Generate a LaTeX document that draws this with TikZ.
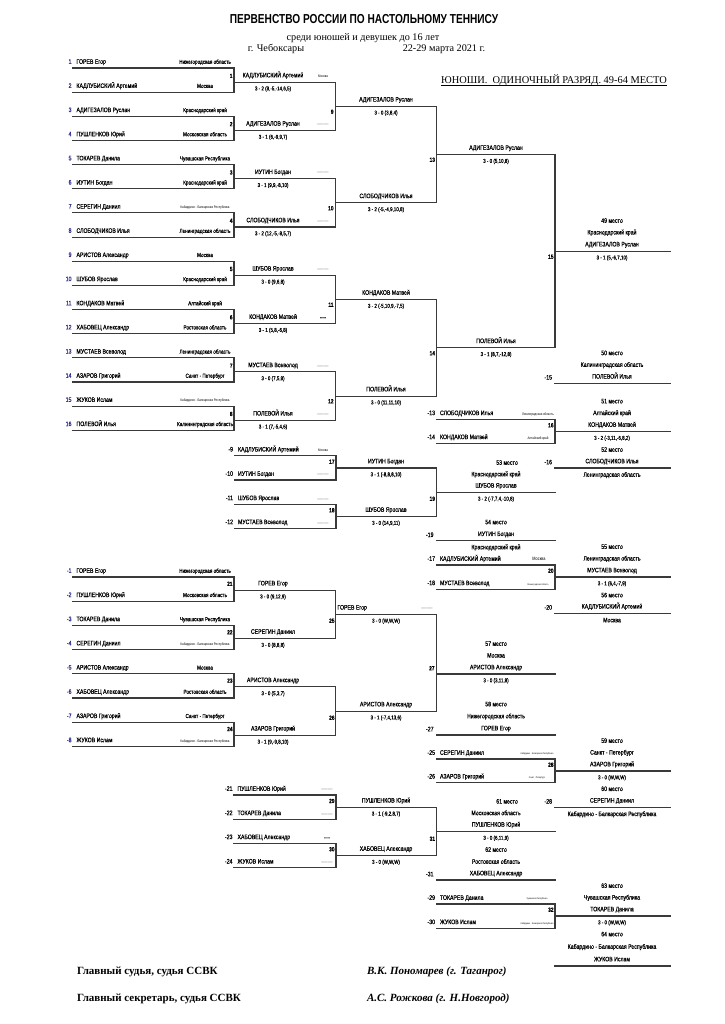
\documentclass[tikz,border=0pt]{standalone}
\usepackage{fontspec}
\setmainfont{Liberation Serif}
\newfontfamily\nar[FakeStretch=0.8,FakeBold=0.45]{Liberation Sans}
\newfontfamily\narl[FakeStretch=0.8]{Liberation Sans}
\newfontfamily\ttlf[FakeStretch=0.78]{Liberation Sans}
\definecolor{nb}{HTML}{2B2B8C}
\definecolor{ln}{HTML}{3A3A3A}
\newcommand\B[1]{\textcolor{nb}{#1}}
\newcommand\tn{\narl\fontsize{3.6}{4}\selectfont}
\newcommand\tnn{\narl\fontsize{2.4}{3}\selectfont}
\newcommand\dsh{{\narl\fontsize{3.8}{3}\selectfont\color{black}-{}-{}-{}-{}-{}-{}-{}-{}-{}-{}-}}
\newcommand\thk{{\nar\fontsize{4.4}{3}\selectfont\bfseries -{}-{}-{}-{}-}}
\tikzset{
 br/.style={line width=1.1pt, draw=ln, line cap=rect},
 tx/.style={inner sep=0pt, outer sep=0pt, anchor=mid, text=black},
 nm/.style={tx, font=\nar\fontsize{6.5}{7}\selectfont},
 sc/.style={tx, font=\nar\fontsize{5.6}{6}\selectfont},
 rg/.style={tx, font=\nar\fontsize{5.8}{6}\selectfont},
 num/.style={tx, font=\nar\bfseries\fontsize{6}{7}\selectfont},
 serif/.style={inner sep=0pt, outer sep=0pt, anchor=mid, font=\fontsize{10.2}{12}\selectfont},
 foot/.style={inner sep=0pt, outer sep=0pt, anchor=mid west, font=\bfseries\fontsize{11}{12}\selectfont},
}
% player line: id, num, name, region, xl, xr, y, region-x
\newcommand\PL[8]{%
  \coordinate (#1l) at (#5,#7); \coordinate (#1r) at (#6,#7);
  \draw[br] (#1l) -- (#1r);
  \node[nm, anchor=mid east] (#1n) at (#5-1.5,#7-6.5) {#2};
  \node[nm, anchor=mid west] (#1t) at (#5+3.5,#7-6.5) {#3};
  \node[rg] (#1g) at (#8,#7-6.5) {#4};}
% winner line: id, x1, x2, y, name, score, cx
\newcommand\WO[7]{%
  \coordinate (#1l) at (#2,#4); \coordinate (#1r) at (#3,#4);
  \draw[br] (#1l) -- (#1r);
  \node[nm] (#1t) at (#7,#4-7) {#5};
  \node[sc] (#1s) at (#7,#4+6) {#6};}
% loser line: id, x1, x2, y, label, cx, name
\newcommand\LL[7]{%
  \coordinate (#1l) at (#2,#4); \coordinate (#1r) at (#3,#4);
  \draw[br] (#1l) -- (#1r);
  \node[nm, anchor=mid east] (#1n) at (#2-3,#4-6) {#5};
  \node[nm] (#1t) at (#6,#4-7) {#7};}
% match number: id, x, y, text
\newcommand\MN[4]{\node[num, anchor=mid east] (#1) at (#2,#3) {#4};}
\begin{document}
\begin{tikzpicture}[x=1pt,y=-1pt]
\useasboundingbox (0,0) rectangle (724,1024);
\fill[white] (0,0) rectangle (724,1024);

% ---------- header ----------
\node[inner sep=0pt, anchor=mid, font=\ttlf\bfseries\fontsize{13}{14}\selectfont] (title) at (364,21) {ПЕРВЕНСТВО РОССИИ ПО НАСТОЛЬНОМУ ТЕННИСУ};
\node[serif] (sub) at (363,38.5) {среди юношей и девушек до 16 лет};
\node[serif] (city) at (276,49.5) {г. Чебоксары};
\node[serif] (date) at (444,49.5) {22-29 марта 2021 г.};
\node[serif, font=\fontsize{10.4}{12}\selectfont] (cat) at (554,81) {ЮНОШИ.\ \ ОДИНОЧНЫЙ РАЗРЯД. 49-64 МЕСТО};
\draw[line width=0.6pt] ([yshift=-1.8pt]cat.base west) -- ([yshift=-1.8pt]cat.base east);

% ---------- upper bracket, round 1 ----------
\PL{p1}{\B{1}}{ГОРЕВ Егор}{Нижегородская область}{73}{234}{68}{205}
\PL{p2}{\B{2}}{КАДЛУБИСКИЙ Артемий}{Москва}{73}{234}{92.15}{205}
\PL{p3}{\B{3}}{АДИГЕЗАЛОВ Руслан}{Краснодарский край}{73}{234}{116.3}{205}
\PL{p4}{\B{4}}{ПУШЛЕНКОВ Юрий}{Московская область}{73}{234}{140.45}{205}
\PL{p5}{\B{5}}{ТОКАРЕВ Данила}{Чувашская Республика}{73}{234}{164.6}{205}
\PL{p6}{\B{6}}{ИУТИН Богдан}{Краснодарский край}{73}{234}{188.75}{205}
\PL{p7}{\B{7}}{СЕРЕГИН Даниил}{\tn Кабардино - Балкарская Республика}{73}{234}{212.9}{205}
\PL{p8}{\B{8}}{СЛОБОДЧИКОВ Илья}{Ленинградская область}{73}{234}{237.05}{205}
\PL{p9}{\B{9}}{АРИСТОВ Александр}{Москва}{73}{234}{261.2}{205}
\PL{p10}{\B{10}}{ШУБОВ Ярослав}{Краснодарский край}{73}{234}{285.35}{205}
\PL{p11}{\B{11}}{КОНДАКОВ Матвей}{Алтайский край}{73}{234}{309.5}{205}
\PL{p12}{\B{12}}{ХАБОВЕЦ Александр}{Ростовская область}{73}{234}{333.65}{205}
\PL{p13}{\B{13}}{МУСТАЕВ Всеволод}{Ленинградская область}{73}{234}{357.8}{205}
\PL{p14}{\B{14}}{АЗАРОВ Григорий}{Санкт - Петербург}{73}{234}{381.95}{205}
\PL{p15}{\B{15}}{ЖУКОВ Ислам}{\tn Кабардино - Балкарская Республика}{73}{234}{406.1}{205}
\PL{p16}{\B{16}}{ПОЛЕВОЙ Илья}{Калининградская область}{73}{234}{430.25}{205}
\foreach \a/\b in {1/2,3/4,5/6,7/8,9/10,11/12,13/14,15/16} \draw[br] (p\a r) -- (p\b r);

\WO{m1}{234}{335.5}{82.1}{КАДЛУБИСКИЙ Артемий}{3 - 2 (8,-5,-14,6,5)}{273}
\WO{m2}{234}{335.5}{130.4}{АДИГЕЗАЛОВ Руслан}{3 - 1 (6,-9,9,7)}{273}
\WO{m3}{234}{335.5}{178.7}{ИУТИН Богдан}{3 - 1 (9,9,-8,10)}{273}
\WO{m4}{234}{335.5}{227.0}{СЛОБОДЧИКОВ Илья}{3 - 2 (12,-5,-8,5,7)}{273}
\WO{m5}{234}{335.5}{275.3}{ШУБОВ Ярослав}{3 - 0 (9,6,8)}{273}
\WO{m6}{234}{335.5}{323.6}{КОНДАКОВ Матвей}{3 - 1 (5,8,-6,8)}{273}
\WO{m7}{234}{335.5}{371.9}{МУСТАЕВ Всеволод}{3 - 0 (7,5,8)}{273}
\WO{m8}{234}{335.5}{420.2}{ПОЛЕВОЙ Илья}{3 - 1 (7,-5,4,6)}{273}
\node[rg] (g1) at (323,75.1) {\tn Москва};
\node[rg] (g2) at (323,123.4) {\dsh};
\node[rg] (g3) at (323,171.7) {\dsh};
\node[rg] (g4) at (323,220) {\dsh};
\node[rg] (g5) at (323,268.3) {\dsh};
\node[rg] (g6) at (323,316.6) {\thk};
\node[rg] (g7) at (323,364.9) {\dsh};
\node[rg] (g8) at (323,413.2) {\dsh};
\foreach \a/\b in {1/2,3/4,5/6,7/8} \draw[br] (m\a r) -- (m\b r);
\MN{n1}{232.5}{75.6}{1} \MN{n2}{232.5}{123.9}{2} \MN{n3}{232.5}{172.2}{3} \MN{n4}{232.5}{220.5}{4}
\MN{n5}{232.5}{268.8}{5} \MN{n6}{232.5}{317.1}{6} \MN{n7}{232.5}{365.4}{7} \MN{n8}{232.5}{413.7}{8}

\WO{m9}{335.5}{436.5}{106.25}{АДИГЕЗАЛОВ Руслан}{3 - 0 (3,8,4)}{386}
\WO{m10}{335.5}{436.5}{202.85}{СЛОБОДЧИКОВ Илья}{3 - 2 (-5,-4,9,10,8)}{386}
\WO{m11}{335.5}{436.5}{299.45}{КОНДАКОВ Матвей}{3 - 2 (-5,10,9,-7,5)}{386}
\WO{m12}{335.5}{436.5}{396.05}{ПОЛЕВОЙ Илья}{3 - 0 (11,11,10)}{386}
\draw[br] (m9r) -- (m10r); \draw[br] (m11r) -- (m12r);
\MN{n9}{333.5}{111.5}{9} \MN{n10}{333.5}{208}{10} \MN{n11}{333.5}{304.5}{11} \MN{n12}{333.5}{401}{12}

\WO{m13}{436.5}{555}{154.55}{АДИГЕЗАЛОВ Руслан}{3 - 0 (5,10,8)}{496}
\WO{m14}{436.5}{555}{347.75}{ПОЛЕВОЙ Илья}{3 - 1 (8,7,-12,8)}{496}
\draw[br] (m13r) -- (m14r);
\MN{n13}{435}{159.5}{13} \MN{n14}{435}{353}{14}

\WO{m15}{555}{670}{251.15}{АДИГЕЗАЛОВ Руслан}{3 - 1 (5,-6,7,10)}{612}
\node[nm] (a49) at (612,220.5) {49 место};
\node[nm] (a49r) at (612,232.2) {Краснодарский край};
\MN{n15}{553.5}{256.5}{15}

\LL{l15}{555}{670}{383.3}{-15}{612}{ПОЛЕВОЙ Илья}
\node[nm] (a50) at (612,352.9) {50 место};
\node[nm] (a50r) at (612,364.6) {Калининградская область};

% ---------- match 16 ----------
\PL{q13}{-13}{СЛОБОДЧИКОВ Илья}{\tn Ленинградская область}{436.5}{555}{419.3}{538}
\PL{q14}{-14}{КОНДАКОВ Матвей}{\tn Алтайский край}{436.5}{555}{443.3}{538}
\draw[br] (q13r) -- (q14r);
\WO{m16}{555}{670}{431.5}{КОНДАКОВ Матвей}{3 - 2 (-3,11,-6,8,2)}{612}
\node[nm] (a51) at (612,401.1) {51 место};
\node[nm] (a51r) at (612,412.8) {Алтайский край};
\MN{n16}{553.5}{425}{16}
\node[nm] (a52) at (612,449.5) {52 место};
\LL{l16}{555}{670}{468}{-16}{612}{СЛОБОДЧИКОВ Илья}
\node[nm] (a52r) at (612,474.5) {Ленинградская область};

% ---------- matches 17-19 ----------
\PL{q9}{-9}{КАДЛУБИСКИЙ Артемий}{\tn Москва}{234.5}{336}{455.7}{323}
\PL{q10}{-10}{ИУТИН Богдан}{\dsh}{234.5}{336}{480}{323}
\PL{q11}{-11}{ШУБОВ Ярослав}{\dsh}{234.5}{336}{504.3}{323}
\PL{q12}{-12}{МУСТАЕВ Всеволод}{\dsh}{234.5}{336}{528.3}{323}
\draw[br] (q9r) -- (q10r); \draw[br] (q11r) -- (q12r);
\WO{m17}{336}{436.5}{468}{ИУТИН Богдан}{3 - 1 (-8,8,8,10)}{386}
\WO{m18}{336}{436.5}{516.5}{ШУБОВ Ярослав}{3 - 0 (14,9,11)}{386}
\MN{n17}{334.5}{461.5}{17} \MN{n18}{334.5}{510}{18}
\draw[br] (m17r) -- (m18r);
\WO{m19}{436.5}{555}{492.3}{ШУБОВ Ярослав}{3 - 2 (-7,7,4,-10,8)}{496}
\node[nm] (a53) at (507,462.5) {53 место};
\node[nm] (a53r) at (496,474) {Краснодарский край};
\MN{n19}{435}{498.5}{19}
\node[nm] (a54) at (496,522) {54 место};
\LL{l19}{436.5}{555}{540.7}{-19}{496}{ИУТИН Богдан}
\node[nm] (a54r) at (496,547) {Краснодарский край};

% ---------- match 20 ----------
\PL{q17}{-17}{КАДЛУБИСКИЙ Артемий}{\narl\fontsize{4.8}{5}\selectfont Москва}{436.5}{555}{565}{539}
\PL{q18}{-18}{МУСТАЕВ Всеволод}{\tnn Ленинградская область}{436.5}{555}{589.3}{538}
\draw[br] (q17r) -- (q18r);
\WO{m20}{555}{670}{577}{МУСТАЕВ Всеволод}{3 - 1 (6,4,-7,9)}{612}
\node[nm] (a55) at (612,546.6) {55 место};
\node[nm] (a55r) at (612,558.3) {Ленинградская область};
\MN{n20}{553.5}{570.5}{20}
\node[nm] (a56) at (612,595) {56 место};
\LL{l20}{555}{670}{613.3}{-20}{612}{КАДЛУБИСКИЙ Артемий}
\node[nm] (a56r) at (612,620) {Москва};

% ---------- lower bracket ----------
\PL{r1}{\B{-1}}{ГОРЕВ Егор}{Нижегородская область}{73}{234}{577}{205}
\PL{r2}{\B{-2}}{ПУШЛЕНКОВ Юрий}{Московская область}{73}{234}{601.2}{205}
\PL{r3}{\B{-3}}{ТОКАРЕВ Данила}{Чувашская Республика}{73}{234}{625.4}{205}
\PL{r4}{\B{-4}}{СЕРЕГИН Даниил}{\tn Кабардино - Балкарская Республика}{73}{234}{649.6}{205}
\PL{r5}{\B{-5}}{АРИСТОВ Александр}{Москва}{73}{234}{673.8}{205}
\PL{r6}{\B{-6}}{ХАБОВЕЦ Александр}{Ростовская область}{73}{234}{698}{205}
\PL{r7}{\B{-7}}{АЗАРОВ Григорий}{Санкт - Петербург}{73}{234}{722.2}{205}
\PL{r8}{\B{-8}}{ЖУКОВ Ислам}{\tn Кабардино - Балкарская Республика}{73}{234}{746.4}{205}
\foreach \a/\b in {1/2,3/4,5/6,7/8} \draw[br] (r\a r) -- (r\b r);
\WO{m21}{234}{335.5}{590.1}{ГОРЕВ Егор}{3 - 0 (9,12,9)}{273}
\WO{m22}{234}{335.5}{638.5}{СЕРЕГИН Даниил}{3 - 0 (8,8,8)}{273}
\WO{m23}{234}{335.5}{686.9}{АРИСТОВ Александр}{3 - 0 (5,3,7)}{273}
\WO{m24}{234}{335.5}{735.3}{АЗАРОВ Григорий}{3 - 1 (9,-9,8,10)}{273}
\MN{n21}{232.5}{583.6}{21} \MN{n22}{232.5}{632}{22} \MN{n23}{232.5}{680.4}{23} \MN{n24}{232.5}{728.8}{24}
\draw[br] (m21r) -- (m22r); \draw[br] (m23r) -- (m24r);
\WO{m25}{335.5}{436.5}{614.3}{}{3 - 0 (W,W,W)}{386}
\node[nm, anchor=mid west] (m25n) at (337.5,607.3) {ГОРЕВ Егор};
\node[rg] (g25) at (427,607.3) {\dsh};
\WO{m26}{335.5}{436.5}{711.1}{АРИСТОВ Александр}{3 - 1 (-7,4,13,6)}{386}
\MN{n25}{334.5}{620.5}{25} \MN{n26}{334.5}{717.5}{26}
\draw[br] (m25r) -- (m26r);
\WO{m27}{436.5}{555}{674}{АРИСТОВ Александр}{3 - 0 (3,11,8)}{496}
\node[nm] (a57) at (496,643.6) {57 место};
\node[nm] (a57r) at (496,655.3) {Москва};
\MN{n27}{434.5}{668}{27}
\node[nm] (a58) at (496,704) {58 место};
\node[nm] (a58r) at (496,716) {Нижегородская область};
\LL{l27}{436.5}{555}{735}{-27}{496}{ГОРЕВ Егор}

% ---------- match 28 ----------
\PL{q25}{-25}{СЕРЕГИН Даниил}{\tnn Кабардино - Балкарская Республика}{436.5}{555}{759}{537}
\PL{q26}{-26}{АЗАРОВ Григорий}{\tnn Санкт - Петербург}{436.5}{555}{782.7}{537}
\draw[br] (q25r) -- (q26r);
\WO{m28}{555}{670}{771}{АЗАРОВ Григорий}{3 - 0 (W,W,W)}{612}
\node[nm] (a59) at (612,740.6) {59 место};
\node[nm] (a59r) at (612,752.3) {Санкт - Петербург};
\MN{n28}{553.5}{764.5}{28}
\node[nm] (a60) at (612,788.7) {60 место};
\LL{l28}{555}{670}{807.3}{-28}{612}{СЕРЕГИН Даниил}
\node[nm] (a60r) at (612,813.8) {Кабардино - Балкарская Республика};

% ---------- matches 29-31 ----------
\PL{q21}{-21}{ПУШЛЕНКОВ Юрий}{\dsh}{234}{336}{795}{327}
\PL{q22}{-22}{ТОКАРЕВ Данила}{\dsh}{234}{336}{819.3}{327}
\PL{q23}{-23}{ХАБОВЕЦ Александр}{\thk}{234}{336}{843.3}{327}
\PL{q24}{-24}{ЖУКОВ Ислам}{\dsh}{234}{336}{867.7}{327}
\draw[br] (q21r) -- (q22r); \draw[br] (q23r) -- (q24r);
\WO{m29}{336}{436.5}{807.2}{ПУШЛЕНКОВ Юрий}{3 - 1 (-9,2,8,7)}{386}
\WO{m30}{336}{436.5}{855.5}{ХАБОВЕЦ Александр}{3 - 0 (W,W,W)}{386}
\MN{n29}{334.5}{800.7}{29} \MN{n30}{334.5}{849}{30}
\draw[br] (m29r) -- (m30r);
\WO{m31}{436.5}{555}{831.4}{ПУШЛЕНКОВ Юрий}{3 - 0 (6,11,9)}{496}
\node[nm] (a61) at (507,801.3) {61 место};
\node[nm] (a61r) at (496,812.9) {Московская область};
\MN{n31}{435}{838.5}{31}
\node[nm] (a62) at (496,849.5) {62 место};
\node[nm] (a62r) at (496,861.5) {Ростовская область};
\LL{l31}{436.5}{555}{880}{-31}{496}{ХАБОВЕЦ Александр}

% ---------- match 32 ----------
\PL{q29}{-29}{ТОКАРЕВ Данила}{\tnn Чувашская Республика}{436.5}{555}{904}{537}
\PL{q30}{-30}{ЖУКОВ Ислам}{\tnn Кабардино - Балкарская Республика}{436.5}{555}{928.3}{537}
\draw[br] (q29r) -- (q30r);
\WO{m32}{555}{670}{916}{ТОКАРЕВ Данила}{3 - 0 (W,W,W)}{612}
\node[nm] (a63) at (612,885.6) {63 место};
\node[nm] (a63r) at (612,897.3) {Чувашская Республика};
\MN{n32}{553.5}{909.5}{32}
\node[nm] (a64) at (612,934) {64 место};
\node[nm] (a64r) at (612,946.5) {Кабардино - Балкарская Республика};
\LL{l32}{555}{670}{966}{}{612}{ЖУКОВ Ислам}

% ---------- footer ----------
\node[foot] (f1) at (77,972) {Главный судья, судья ССВК};
\node[foot, font=\bfseries\itshape\fontsize{11}{12}\selectfont] (f2) at (367,972) {В.К. Пономарев (г. Таганрог)};
\node[foot] (f3) at (77,999) {Главный секретарь, судья ССВК};
\node[foot, font=\bfseries\itshape\fontsize{11}{12}\selectfont] (f4) at (367,999) {А.С. Рожкова (г. Н.Новгород)};
\end{tikzpicture}
\end{document}
